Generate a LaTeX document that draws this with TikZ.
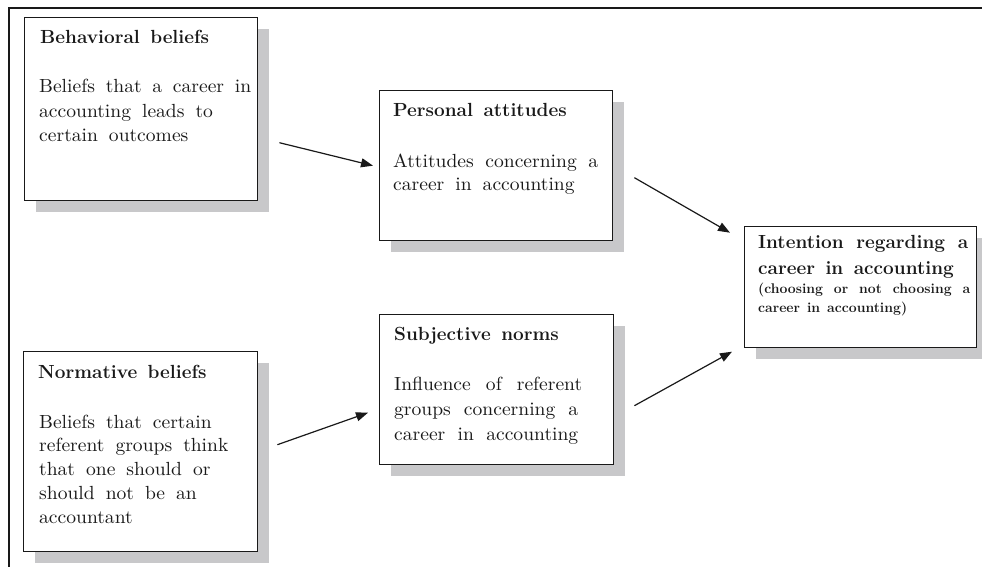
\documentclass[tikz,border=0pt]{standalone}
\usepackage{fontspec}
\newfontfamily\bodyface{lmroman10-regular.otf}[FakeStretch=1.03]
\usetikzlibrary{arrows.meta,shadows}
\definecolor{ink}{RGB}{25,25,25}
\definecolor{shade}{RGB}{200,200,202}
\newcommand\bodyfnt[1]{\fontsize{19}{#1}\bodyface\spaceskip=11pt plus 6pt minus 1pt\relax}
\newcommand\ttlfnt{\fontsize{19}{26}\selectfont\bfseries\spaceskip=0.55em plus 0.4em minus 0.1em\relax}
\newcommand\smlfnt{\fontsize{14}{19}\selectfont\bfseries\spaceskip=0.5em plus 0.6em minus 0.1em\relax}
\newcommand\fl[2]{\makebox[#1pt][s]{#2}}
\tikzset{
  box/.style={draw=ink, line width=1.4pt, fill=white, inner sep=0pt, anchor=north west,
    general shadow={fill=shade, shadow xshift=11pt, shadow yshift=-11pt}},
  arr/.style={draw=ink, line width=1.2pt, -{Triangle[length=12pt,width=9pt]}},
  ttl/.style={anchor=base west, inner sep=0pt, text=ink, font=\ttlfnt},
  body/.style={anchor=base west, inner sep=0pt, text=ink},
}
\begin{document}
\begin{tikzpicture}[x=1pt,y=-1pt]
\useasboundingbox (0,0) rectangle (982,567);
\clip (0,0) rectangle (982,567);
\fill[white] (0,0) rectangle (982,567);
\draw[ink, line width=1.4pt] (9,8) rectangle (1000,590);

% boxes
\node[box, minimum width=233pt, minimum height=183pt] (b1) at (24,17) {};
\node[box, minimum width=233pt, minimum height=150pt] (b2) at (379,90) {};
\node[box, minimum width=232pt, minimum height=121pt] (b3) at (744,226) {};
\node[box, minimum width=234pt, minimum height=200pt] (b4) at (23,351) {};
\node[box, minimum width=234pt, minimum height=150pt] (b5) at (379,314) {};

% texts
\node[ttl] (b1h) at (40,44) {Behavioral beliefs};
\node[body] (b1b) at (39,93) {\parbox[t]{230pt}{\bodyfnt{24.5}
  \fl{212}{Beliefs that a career in}\\ accounting leads to\\ certain outcomes}};

\node[ttl] (b2h) at (393,117) {Personal attitudes};
\node[body] (b2b) at (393,167) {\parbox[t]{230pt}{\bodyfnt{23.5}
  \fl{205}{Attitudes concerning a}\\ career in accounting}};

\node[body] (b3h) at (758,248) {\parbox[t]{230pt}{\ttlfnt
  \fl{210}{Intention regarding a}\\ career in accounting}};
\node[body] (b3b) at (758,293) {\parbox[t]{230pt}{\smlfnt
  \fl{212}{(choosing or not choosing a}\\ career in accounting)}};

\node[ttl] (b4h) at (38,378) {Normative beliefs};
\node[body] (b4b) at (39,428) {\parbox[t]{230pt}{\bodyfnt{23.8}
  Beliefs that certain\\ referent groups think\\ that one should or\\ should not be an\\ accountant}};

\node[ttl] (b5h) at (394,340) {Subjective norms};
\node[body] (b5b) at (394,390) {\parbox[t]{230pt}{\bodyfnt{25}
  \fl{188}{Influence of referent}\\ \fl{184}{groups concerning a}\\ \fl{184}{career in accounting}}};

% connectors
\draw[arr] ([shift={(21,33.5)}]b1.east) -- ([shift={(-6,0)}]b2.west);
\draw[arr] ([shift={(21,12)}]b2.east) -- ([shift={(-14,-54.5)}]b3.west);
\draw[arr] ([shift={(19,-7)}]b4.east) -- ([shift={(-11,23)}]b5.west);
\draw[arr] ([shift={(20,16)}]b5.east) -- ([shift={(-12,64.5)}]b3.west);
\end{tikzpicture}
\end{document}
